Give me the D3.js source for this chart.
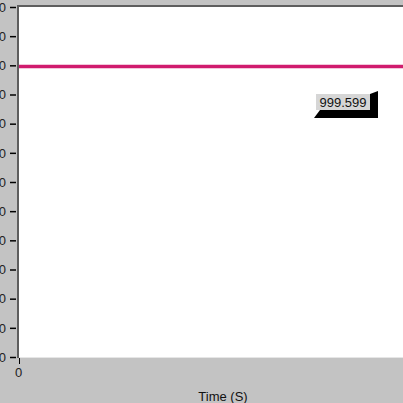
<!DOCTYPE html>
<html><head><meta charset="utf-8">
<script src="https://cdn.jsdelivr.net/npm/d3@7"></script>
<style>html,body{margin:0;padding:0;background:#c3c3c3;overflow:hidden}svg{display:block}</style>
</head><body>
<script>
const yTicks = [900, 910, 920, 930, 940, 950, 960, 970, 980, 990, 1000, 1010, 1020];
const xTicks = [0];
const times = [0, 10];
const values = [999.599, 999.599];
const cursorLabel = "999.599";
const xTitle = "Time (S)";

(function () {
const W = 403, H = 403;
const svg = d3.select("body").append("svg").attr("width", W).attr("height", H);
svg.append("rect").attr("width", W).attr("height", H).attr("fill", "#c3c3c3");

const pL = 19, pT = 7, pB = 357, pR = 420;
const y = d3.scaleLinear().domain([900, 1020]).range([pB, pT]);
const x = d3.scaleLinear().domain([0, 10]).range([pL, 700]);

// top dark strip
svg.append("rect").attr("x", pL - 2).attr("y", 5).attr("width", W).attr("height", 2).attr("fill", "#5e5e5e");
// plot area
svg.append("rect").attr("x", pL).attr("y", pT).attr("width", pR - pL).attr("height", pB - pT).attr("fill", "#ffffff");
// left border
svg.append("rect").attr("x", pL - 2).attr("y", 5).attr("width", 2).attr("height", pB - 5 + 1).attr("fill", "#5e5e5e");
// bottom light line
svg.append("line").attr("x1", pL).attr("x2", W).attr("y1", pB + 0.5).attr("y2", pB + 0.5).attr("stroke", "#e6e6e6");

// y axis
const yAxis = d3.axisLeft(y).tickValues(yTicks).tickSize(6).tickPadding(4).tickFormat(d3.format("d"));
const ya = svg.append("g").attr("transform", `translate(${pL - 3},0)`).call(yAxis);
ya.select(".domain").remove();
ya.selectAll("line").attr("stroke", "#000").attr("stroke-width", 1.5);
ya.selectAll("text").attr("font-family", "Liberation Sans, Arial, sans-serif").attr("font-size", 13).attr("fill", "#222");

// x axis
const xAxis = d3.axisBottom(x).tickValues(xTicks).tickSize(6).tickPadding(4).tickFormat(d3.format("d"));
const xa = svg.append("g").attr("transform", `translate(0,${pB + 1})`).call(xAxis);
xa.select(".domain").remove();
xa.selectAll("line").attr("stroke", "#000").attr("stroke-width", 1);
xa.selectAll("text").attr("font-family", "Liberation Sans, Arial, sans-serif").attr("font-size", 13).attr("fill", "#222").attr("dx", -1);

// data line
const line = d3.line().x((d, i) => x(times[i])).y(d => y(d));
svg.append("path").datum(values).attr("d", line).attr("fill", "none").attr("stroke", "#d01c6e").attr("stroke-width", 3.5);

// x title
svg.append("text").attr("x", 223).attr("y", 401).attr("text-anchor", "middle")
  .attr("font-family", "Liberation Sans, Arial, sans-serif").attr("font-size", 13).attr("fill", "#111").text(xTitle);

// cursor label box
const bx = 316, by = 94, bw = 54, bh = 16, sd = 8;
svg.append("path").attr("d", `M${bx + bw},${by} L${bx + bw + sd},${by - 3} L${bx + bw + sd},${by + bh + sd} L${bx - 2},${by + bh + sd} L${bx + 4},${by + bh} Z`).attr("fill", "#000");
svg.append("rect").attr("x", bx).attr("y", by).attr("width", bw).attr("height", bh).attr("fill", "#d6d6d6");
svg.append("text").attr("x", bx + bw / 2).attr("y", by + 13).attr("text-anchor", "middle")
  .attr("font-family", "Liberation Sans, Arial, sans-serif").attr("font-size", 13).attr("fill", "#111").text(cursorLabel);
})();
</script>
</body></html>
